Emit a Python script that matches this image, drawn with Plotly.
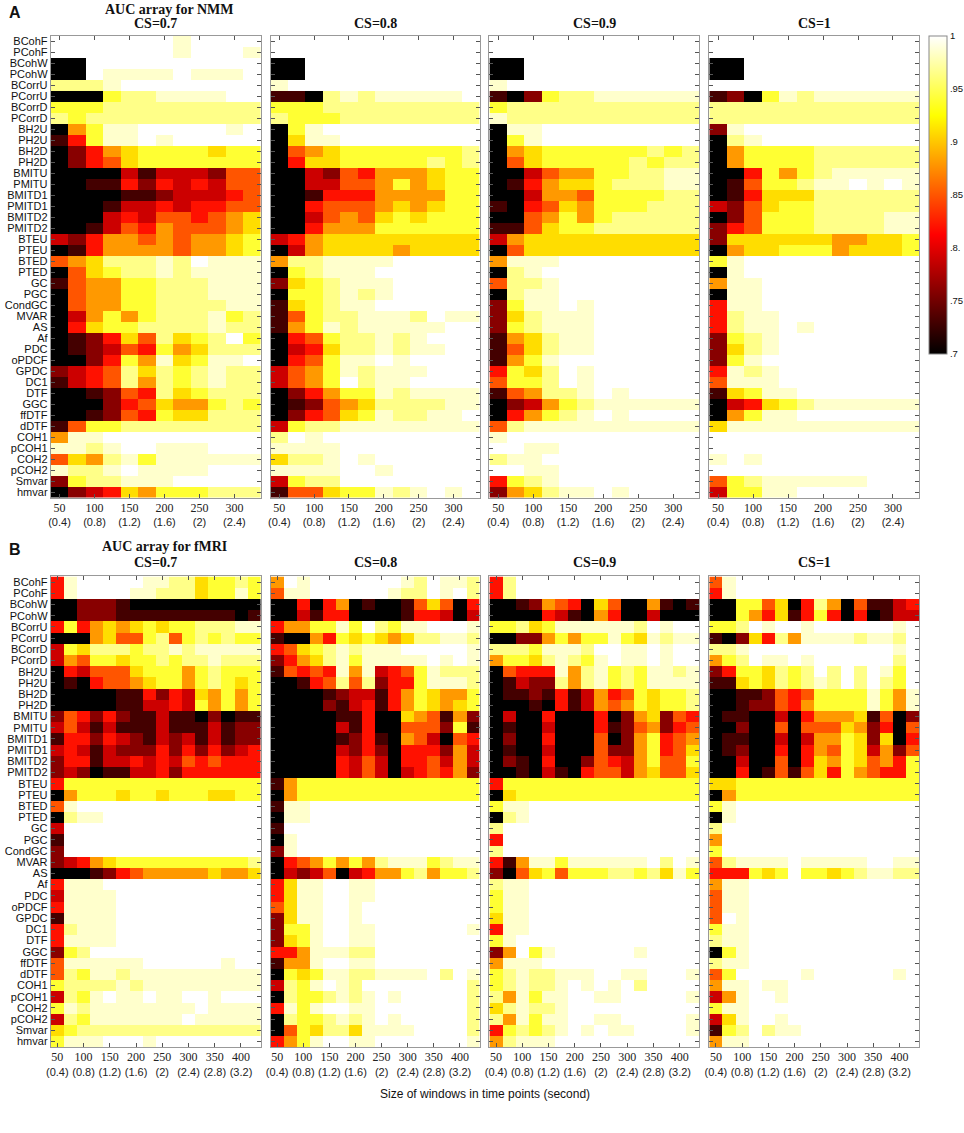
import numpy as np
import plotly.graph_objects as go

# connectivity measures, top to bottom
MEASURES = ["BCohF", "PCohF", "BCohW", "PCohW", "BCorrU", "PCorrU", "BCorrD", "PCorrD",
            "BH2U", "PH2U", "BH2D", "PH2D", "BMITU", "PMITU", "BMITD1", "PMITD1",
            "BMITD2", "PMITD2", "BTEU", "PTEU", "BTED", "PTED", "GC", "PGC", "CondGC",
            "MVAR", "AS", "Af", "PDC", "oPDCF", "GPDC", "DC1", "DTF", "GGC", "ffDTF",
            "dDTF", "COH1", "pCOH1", "COH2", "pCOH2", "Smvar", "hmvar"]

CS_LABELS = ["CS=0.7", "CS=0.8", "CS=0.9", "CS=1"]

NMM_WINDOWS = [50, 75, 100, 125, 150, 175, 200, 225, 250, 275, 300, 325]
NMM_TICKS = [50, 100, 150, 200, 250, 300]
NMM_SECONDS = ["0.4", "0.8", "1.2", "1.6", "2", "2.4"]

FMRI_WINDOWS = [50, 75, 100, 125, 150, 175, 200, 225, 250, 275, 300, 325, 350, 375, 400, 425]
FMRI_TICKS = [50, 100, 150, 200, 250, 300, 350, 400]
FMRI_SECONDS = ["0.4", "0.8", "1.2", "1.6", "2", "2.4", "2.8", "3.2"]

CBAR_TICKS = [0.7, 0.75, 0.8, 0.85, 0.9, 0.95, 1.0]
CBAR_TEXT = [".7", ".75", ".8.", ".85", ".9", ".95", "1"]

# AUC values estimated from the colours, one character per cell
AUC_CODE = {"0": 0.70, "1": 0.73, "2": 0.76, "3": 0.79, "4": 0.82, "5": 0.85,
            "6": 0.88, "7": 0.91, "8": 0.94, "9": 0.965, "a": 0.985, "b": 1.0}

NMM_CS07 = [
    "bbbb bbba bbbb", "bbbb bbba bbba", "00bb bbbb bbbb", "00ba aaab aaab",
    "999a bbbb bbbb", "0008 99aa aabb", "8889 9999 9999", "9899 9999 9999",
    "068a abbb bbab", "148a abab bbbb", "0246 7888 8788", "0245 7888 8888",
    "0000 3133 3255", "0011 4243 4355", "0000 1123 3345", "0001 3343 4455",
    "0003 4355 4567", "0013 5465 5567", "3246 6565 6678", "0146 6665 6678",
    "5679 99a9 baaa", "0578 99a9 aaaa", "1566 8899 9aaa", "0566 8899 9aaa",
    "0566 8899 99aa", "0368 6899 9a89", "0478 8999 9a99", "0124 7597 89b8",
    "0123 5486 7999", "0024 86a7 8aab", "2345 9798 9a99", "1345 9698 9a99",
    "0012 5497 8999", "0002 4576 6898", "0012 5487 7999", "1588 9999 9999",
    "6aab bbbb bbbb", "aa9a bbaa abbb", "5769 a8aa aaaa", "a99a baaa abbb",
    "2899 aaab bbbb", "0234 7688 8999",
]
NMM_CS08 = [
    "bbbb bbbb bbbb", "bbbb bbbb bbbb", "00bb bbbb bbbb", "00bb bbbb bbbb",
    "abbb bbbb bbbb", "1109 a9aa aaab", "8889 9999 9999", "9888 9999 9999",
    "08ab bbbb bbbb", "07aa bbbb bbbb", "0567 8888 8889", "0477 8888 8989",
    "0032 5466 6788", "0033 5568 6788", "0014 4466 6688", "0045 5567 6788",
    "0035 6578 7888", "0046 6688 8888", "3467 7777 7777", "0367 7776 7777",
    "699a aaab bbbb", "089a aabb bbbb", "2789 aaab bbbb", "0889 a9ab bbbb",
    "1789 aabb bbbb", "1589 9aaa 9baa", "168a 9aaa aabb", "0458 99a9 abbb",
    "0347 99a9 aabb", "0458 aaba bbbb", "3568 a9aa abbb", "3568 b9aa bbbb",
    "0246 88a9 aaaa", "0125 6799 99aa", "0245 78a9 9aab", "3899 aaaa aaaa",
    "9bab bbbb bbbb", "aaaa bbbb bbbb", "799a babb bbbb", "aaaa bbab bbbb",
    "3899 bbbb bbbb", "1557 88a9 abab",
]
NMM_CS09 = [
    "bbbb bbbb bbbb", "bbbb bbbb bbbb", "00bb bbbb bbbb", "00bb bbbb bbbb",
    "abbb bbbb bbbb", "1028 99aa aaaa", "8999 9999 9999", "a999 9999 9999",
    "0aab bbbb bbbb", "08ab bbbb bbbb", "0678 8888 8989", "0578 8888 9899",
    "0035 6688 99aa", "0146 7789 99aa", "0036 6588 8899", "1045 7688 8999",
    "0056 8689 9999", "1157 8899 9999", "3677 7777 7777", "0577 7777 7777",
    "6aaa bbbb bbbb", "09ab bbbb bbbb", "599a bbbb bbbb", "09aa bbbb bbbb",
    "28aa babb bbbb", "279a aabb bbbb", "289a aabb bbbb", "1679 aabb bbbb",
    "1579 aabb bbbb", "168a bbbb bbbb", "4879 babb bbbb", "5889 babb bbbb",
    "1569 9aba bbbb", "0236 89aa aaaa", "0468 9aba bbbb", "59aa aaaa aaaa",
    "abbb bbbb bbbb", "bbaa bbbb bbbb", "9aab bbbb bbbb", "bbaa bbbb bbbb",
    "489a bbbb bbbb", "2679 aaba bbbb",
]
NMM_CS10 = [
    "bbbb bbbb bbbb", "bbbb bbbb bbbb", "00bb bbbb bbbb", "00bb bbbb bbbb",
    "bbbb bbbb bbbb", "1208 a9aa aaaa", "9999 9999 9999", "9999 9999 9999",
    "2abb bbbb bbbb", "09ab bbbb bbbb", "0688 8899 9999", "0688 8899 9999",
    "0048 689a aaaa", "0158 89aa baba", "0147 7799 9999", "3257 8899 9999",
    "0258 8899 99aa", "2458 8899 99aa", "2777 7776 6778", "0677 8886 7778",
    "8abb bbbb bbbb", "0abb bbbb bbbb", "6aab bbbb bbbb", "0aab bbbb bbbb",
    "4aab bbbb bbbb", "49aa bbbb bbbb", "49aa babb bbbb", "289a bbbb bbbb",
    "279a bbbb bbbb", "28ab bbbb bbbb", "4a9a bbbb bbbb", "5aaa bbbb bbbb",
    "178a abbb bbbb", "0347 89aa aaaa", "068a abbb bbbb", "7aaa aaaa aaaa",
    "bbbb bbbb bbbb", "bbbb bbbb bbbb", "abab bbbb bbbb", "bbbb bbbb bbbb",
    "589a aaaa abbb", "388a abbb bbbb",
]

FMRI_CS07 = [
    "4abb bbba a997 8898", "4abb bbaa 9997 88a8", "0022 2100 0000 0000", "0022 2111 1111 1101",
    "4846 7678 7889 99aa", "0006 7558 9589 8988", "3879 9989 9a9a aaaa", "3658 8788 9899 a999",
    "0435 5578 8868 9888", "0104 5567 8868 9878", "0000 0114 2437 6868", "0000 0113 3438 6868",
    "2542 4211 3110 2011", "3531 3111 3111 3122", "1442 4321 3231 3122", "3431 3222 4242 4234",
    "2441 3343 4354 5444", "2320 1133 4244 4444", "4888 8888 8888 8888", "0688 8788 7888 7788",
    "5abb bbbb bbbb bbbb", "09aa bbbb bbbb bbbb", "3bbb bbbb bbbb bbbb", "1bbb bbbb bbbb bbbb",
    "2bbb bbbb bbbb bbbb", "2346 7888 8888 8889", "0001 2456 6666 7667", "4aaa bbbb bbbb bbbb",
    "3aaa abbb bbbb bbbb", "4aaa abbb bbbb bbbb", "1aaa abbb bbbb bbbb", "49aa abbb bbbb bbbb",
    "4aaa abbb bbbb bbbb", "289b bbbb bbbb bbbb", "5aaa aaab bbbb babb", "598a a9aa aaaa aaaa",
    "8999 9a9a aaaa aaaa", "398a baab aabb abbb", "8a9a aaaa aaab aaaa", "398a aaaa aaba aaaa",
    "7899 9999 9999 9999", "8aaa bbba bbbb bbbb",
]
FMRI_CS08 = [
    "6bab bbbb bba9 baa9", "5aab bbbb ba99 bab9", "0040 4601 0015 7504", "0031 4400 0014 4303",
    "4668 8a8b 98aa bbba", "1006 4878 7679 9aa9", "4578 9a9a aabb bbba", "2467 9a8a aaaa baba",
    "1545 4a6a 3458 a999", "0014 5959 2448 aaa9", "0000 1233 1468 7668", "0000 2134 1468 7678",
    "0000 0114 0076 5162", "0000 0314 0055 5281", "0000 0124 1065 3054", "0000 0324 2044 4263",
    "0000 0435 3044 5363", "0000 0435 3034 5462", "1688 8888 8888 8888", "0688 8888 8888 8888",
    "1aab bbbb bbbb bbbb", "0aab bbbb bbbb bbbb", "1bbb bbbb bbbb bbbb", "0abb bbbb bbbb bbbb",
    "2abb bbbb bbbb bbbb", "0456 8686 9aaa 89aa", "0323 5034 6689 6889", "47aa bbaa bbbb bbbb",
    "47aa bbaa bbbb bbbb", "57aa bbab bbbb bbbb", "27aa bbab bbbb bbbb", "288a bbaa bbbb bbba",
    "278a bbaa bbbb bbbb", "446a aa99 bbbb bbbb", "166a bbaa bbbb bbbb", "0878 aa99 aaaa b9ba",
    "398a ba9b bbbb bbb9", "0988 9a9a babb bbb9", "4a8a bbaa bbbb bbb9", "0988 9a9a babb bbb9",
    "0587 997a aaab bbb9", "468a bbaa bbbb bbba",
]
FMRI_CS09 = [
    "49bb bbbb bbbb bbbb", "49bb bbbb bbbb bbbb", "0012 6540 7500 6101", "0000 4310 6400 3000",
    "8897 8aaa aaa9 babb", "0022 6868 8a87 a9aa", "9998 aaa9 bbaa babb", "6887 9a98 abaa babb",
    "0544 4a69 a898 aa9a", "0132 2969 a898 aaaa", "0112 1413 6458 7889", "0001 0413 6568 7889",
    "0300 4000 4026 7254", "0100 3000 4125 6245", "0200 4000 5026 8456", "0100 3000 5226 8457",
    "0210 4002 5436 8558", "0010 3104 5536 7557", "4888 8888 8888 8888", "0788 8888 8888 8888",
    "8aab bbbb bbbb bbbb", "09ab bbbb bbbb bbbb", "9bbb bbbb bbbb bbbb", "4bbb bbbb bbbb bbbb",
    "9bbb bbbb bbbb bbbb", "416a a8aa aaaa b9ba", "2057 8588 8998 97a8", "9aab bbbb bbbb bbbb",
    "8aab bbbb bbbb bbbb", "8aab bbbb bbbb bbbb", "7aab bbbb bbbb bbbb", "4aab bbbb bbbb bbbb",
    "8abb bbbb bbbb bbbb", "26b8 abbb bbba bbbb", "6aaa bbbb bbbb bbbb", "89a9 9aaa bbaa bbba",
    "89a9 9aba bab9 bbbb", "96a8 aabb aabb bbba", "79a9 9abb bbbb bbbb", "96a8 aabb aabb bbba",
    "4898 9aba baab bbba", "69aa abbb bbbb bbbb",
]
FMRI_CS10 = [
    "5abb bbbb bbbb bbbb", "4abb bbbb bbbb bbbb", "0088 5704 9605 1134", "0086 4714 8404 0133",
    "889b abba bbbb bbab", "1027 496a aaa9 aa9b", "99ab bbbb bbbb bbab", "689b aaba bbbb bb9b",
    "2488 7989 b9b9 ba8b", "1178 7989 a9b9 b98b", "0011 2545 8888 a86a", "0012 2546 8888 a86a",
    "0110 0304 6667 1502", "0020 0505 5576 2405", "0110 0303 6687 2704", "0120 0404 6587 3625",
    "0030 0504 7687 5648", "0040 1515 7486 5448", "7788 8888 8888 8888", "0688 8888 8888 8888",
    "8abb bbbb bbbb bbbb", "0abb bbbb bbbb bbbb", "9bbb bbbb bbbb bbbb", "6bbb bbbb bbbb bbbb",
    "8bbb bbbb bbbb bbbb", "59aa aaba aaaa bbaa", "4448 78b8 8789 aa99", "6aab bbbb bbbb bbbb",
    "5aab bbbb bbbb bbbb", "5aab bbbb bbbb bbbb", "5bab bbbb bbbb bbbb", "8aab bbbb bbbb bbbb",
    "9aab bbbb bbbb bbbb", "08ab bbbb bbbb bbbb", "9aab bbbb bbbb bbbb", "58bb bbba bbbb bbab",
    "6aab aabb bbbb bbbb", "36ab babb bbbb bbbb", "8aab bbbb bbbb bbbb", "37ab babb bbbb bbbb",
    "189b 9aab bbbb bbbb", "6aab bbbb bbbb bbbb",
]

W, H = 964, 1133
# matlab style "hot"
HOT = [[0.0, "#000000"], [0.375, "#ff0000"], [0.75, "#ffff00"], [1.0, "#ffffff"]]
SANS = "Liberation Sans, Arial, sans-serif"
SERIF = "Liberation Serif, Times New Roman, serif"


def decode(rows, ncols):
    z = []
    for name, r in zip(MEASURES, rows):
        r = r.replace(" ", "")
        assert len(r) == ncols, (name, r)
        z.append([AUC_CODE[c] for c in r])
    return z


def px(x):
    return x / W


def py(y):
    return 1 - y / H


panels_x = [(46, 257), (267, 477), (487, 698), (708, 919)]
top_y = (35, 497)
bot_y = (576, 1047)

panels = [
    (NMM_CS07, NMM_WINDOWS, NMM_TICKS, NMM_SECONDS, top_y),
    (NMM_CS08, NMM_WINDOWS, NMM_TICKS, NMM_SECONDS, top_y),
    (NMM_CS09, NMM_WINDOWS, NMM_TICKS, NMM_SECONDS, top_y),
    (NMM_CS10, NMM_WINDOWS, NMM_TICKS, NMM_SECONDS, top_y),
    (FMRI_CS07, FMRI_WINDOWS, FMRI_TICKS, FMRI_SECONDS, bot_y),
    (FMRI_CS08, FMRI_WINDOWS, FMRI_TICKS, FMRI_SECONDS, bot_y),
    (FMRI_CS09, FMRI_WINDOWS, FMRI_TICKS, FMRI_SECONDS, bot_y),
    (FMRI_CS10, FMRI_WINDOWS, FMRI_TICKS, FMRI_SECONDS, bot_y),
]

fig = go.Figure()
layout = {}
for k, (rows, wins, ticks, secs, (y0, y1)) in enumerate(panels):
    n = "" if k == 0 else str(k + 1)
    z = decode(rows, len(wins))
    fig.add_trace(go.Heatmap(z=z, x=wins, y=MEASURES, coloraxis="coloraxis",
                             xaxis="x" + n, yaxis="y" + n))
    x0, x1 = panels_x[k % 4]
    ticktext = ['<span style="font-family:%s;font-size:12px">%d</span><br>(%s)' % (SERIF, t, s)
                for t, s in zip(ticks, secs)]
    step = wins[1] - wins[0]
    layout["xaxis" + n] = dict(
        domain=[px(x0), px(x1)], anchor="y" + n,
        range=[wins[0] - step / 2, wins[-1] + step / 2],
        tickmode="array", tickvals=ticks, ticktext=ticktext,
        ticks="inside", ticklen=4, tickcolor="#555",
        showline=True, linecolor="#999", linewidth=1,
        mirror="ticks", showgrid=False, zeroline=False,
        tickfont=dict(family=SANS, size=11, color="#222"),
    )
    layout["yaxis" + n] = dict(
        domain=[py(y1), py(y0)], anchor="x" + n, type="category",
        autorange="reversed", tickmode="array", tickvals=MEASURES, ticktext=MEASURES,
        ticks="inside", ticklen=4, tickcolor="#555",
        showline=True, linecolor="#999", linewidth=1, mirror="ticks",
        showgrid=False, zeroline=False, showticklabels=(k % 4 == 0),
        tickfont=dict(family=SANS, size=11, color="#111"),
    )

annotations = []


def note(text, x, y, size, family, bold=False, xanchor="center"):
    if bold:
        text = "<b>%s</b>" % text
    annotations.append(dict(text=text, x=px(x), y=py(y), xref="paper", yref="paper",
                            xanchor=xanchor, yanchor="middle", showarrow=False,
                            font=dict(family=family, size=size, color="#111")))


note("A", 2, 12, 16, SANS, True, "left")
note("AUC array for NMM", 165, 9, 14, SERIF, True)
note("B", 2, 549, 16, SANS, True, "left")
note("AUC array for fMRI", 160, 546, 14, SERIF, True)
for k, lab in enumerate(CS_LABELS):
    x0, x1 = panels_x[k]
    note(lab, (x0 + x1) / 2, 23, 14, SERIF, True)
    note(lab, (x0 + x1) / 2, 562, 14, SERIF, True)
note("Size of windows in time points (second)", 483, 1094, 12, SANS)

fig.update_layout(
    width=W, height=H, autosize=False,
    margin=dict(l=0, r=0, t=0, b=0),
    paper_bgcolor="white", plot_bgcolor="white",
    showlegend=False, annotations=annotations,
    coloraxis=dict(
        colorscale=HOT, cmin=0.7, cmax=1.0,
        colorbar=dict(
            x=px(929), xanchor="left", y=py(35), yanchor="top",
            len=(353 - 35) / H, lenmode="fraction", thickness=18,
            xpad=0, ypad=0, outlinecolor="#888", outlinewidth=1,
            tickmode="array", tickvals=CBAR_TICKS, ticktext=CBAR_TEXT, ticks="",
            tickfont=dict(family=SANS, size=9.5, color="#111"),
        ),
    ),
    **layout,
)

# the page body has a default 8px margin; drop it so the figure sits at 0,0
fig.write_html("out.html", config={"displayModeBar": False},
               post_script="document.body.style.margin='0';")
